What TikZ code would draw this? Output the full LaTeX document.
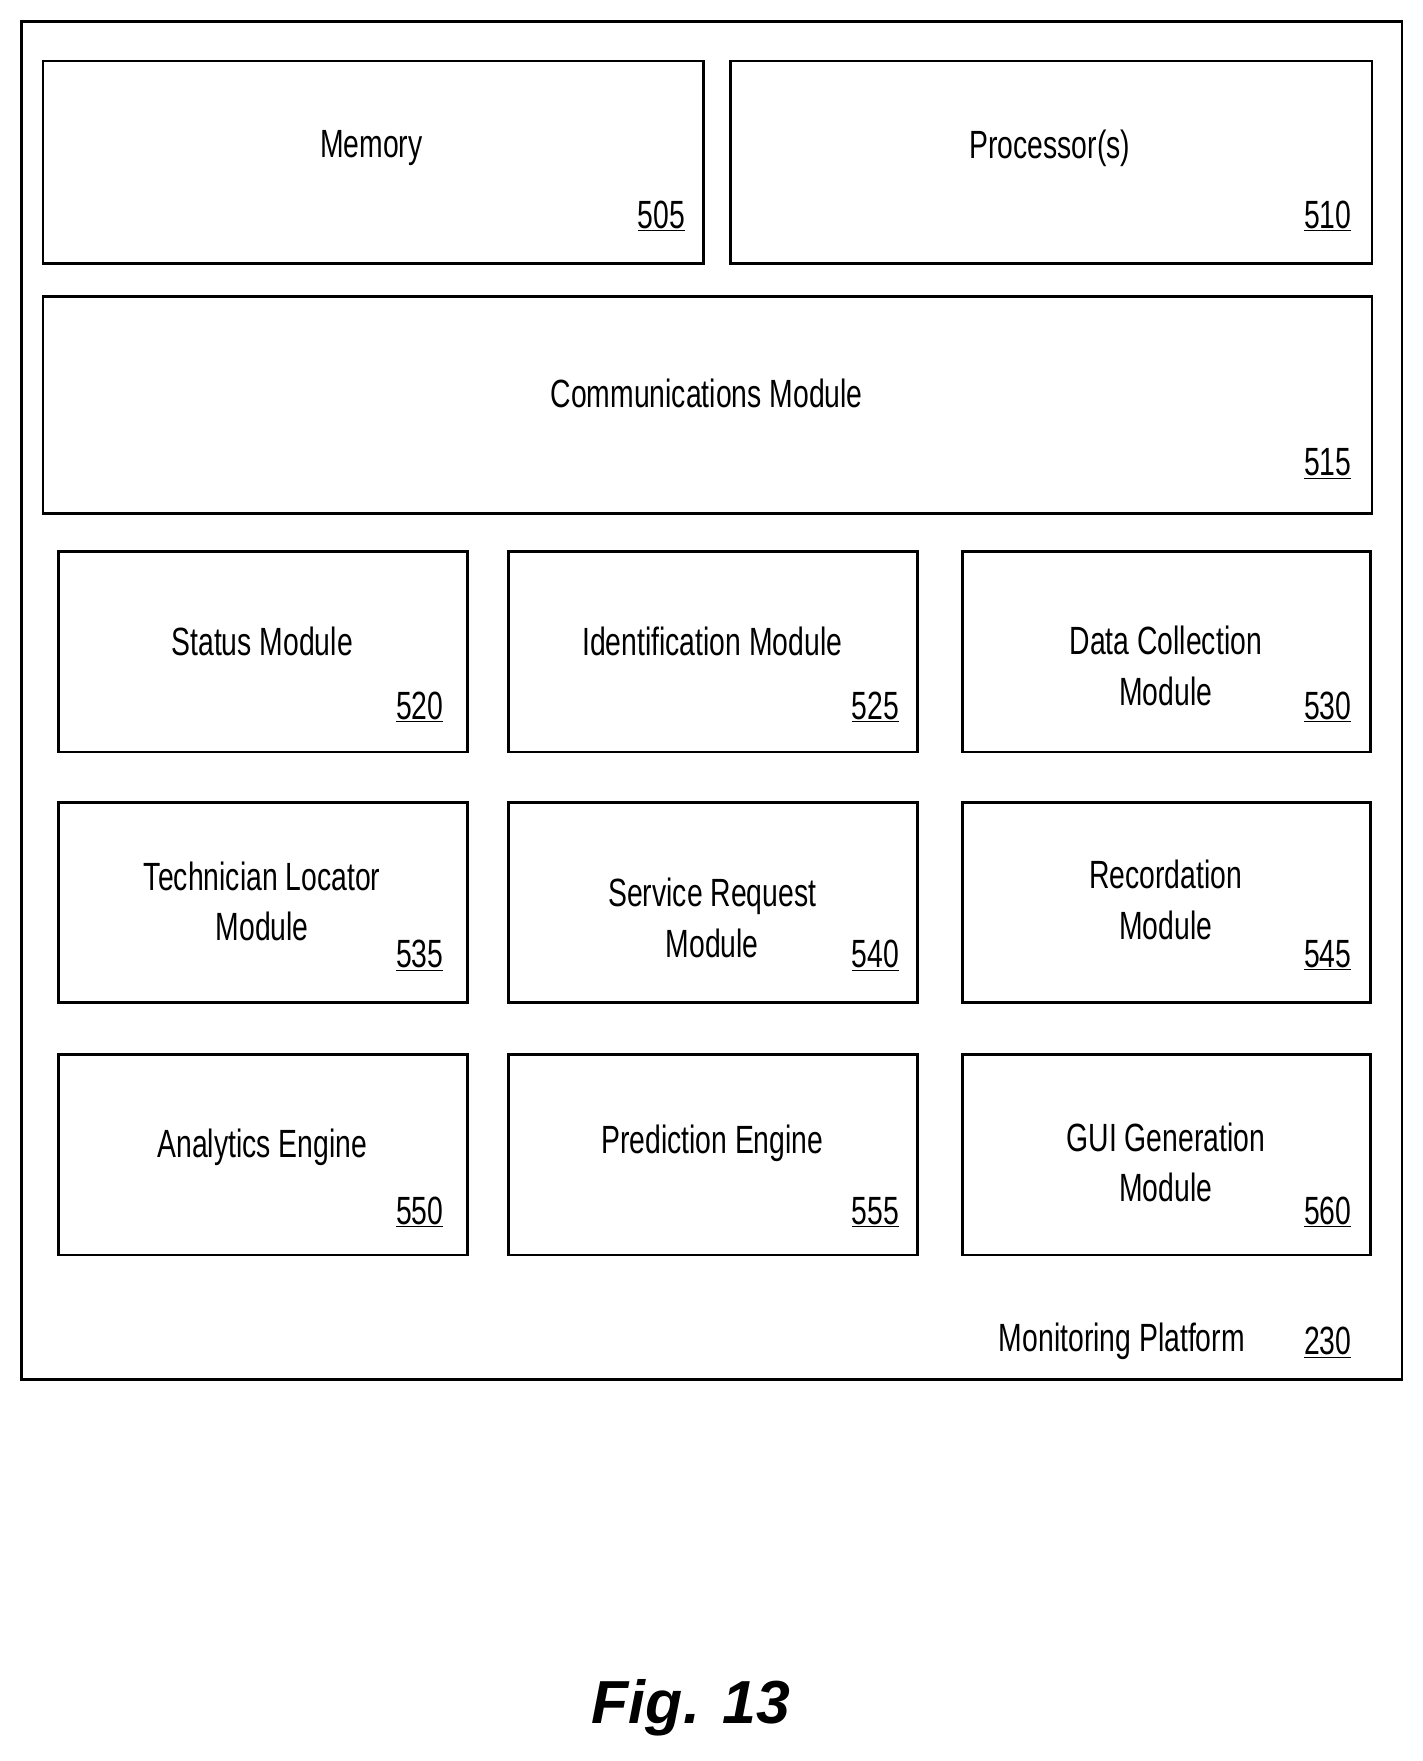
\documentclass[tikz,border=0pt]{standalone}
\usepackage{fontspec}
\setmainfont{Liberation Sans}[FakeStretch=0.72]
\newfontfamily\figfont{Liberation Sans}
\begin{document}
\begin{tikzpicture}[x=1pt,y=-1pt,
  box/.style={draw,line width=2.5pt},
  lbl/.style={font=\fontsize{35}{45}\selectfont,align=center,inner sep=0pt},
  num/.style={font=\fontsize{35}{40}\selectfont,inner sep=0pt}]
\useasboundingbox (0,0) rectangle (1264,1565);
\newcommand\ul[1]{\underline{#1}}
\draw[box] (19,19) rectangle (1246,1226);
\node[box,minimum width=587,minimum height=180,anchor=north west,inner sep=0] (mem) at (37,53) {};
\node[lbl] (memt) at (330,132) {Memory};
\node[num] (memn) at (588,192) {\ul{505}};
\node[box,minimum width=570,minimum height=180,anchor=north west,inner sep=0] (proc) at (648,53) {};
\node[lbl] (proct) at (933,132) {Processor(s)};
\node[num] (procn) at (1180,192) {\ul{510}};
\node[box,minimum width=1181,minimum height=193,anchor=north west,inner sep=0] (comm) at (37,262) {};
\node[lbl] (commt) at (628,350) {Communications Module};
\node[num] (commn) at (1180,412) {\ul{515}};
\foreach \nm/\x/\y/\ty/\t/\n/\nx/\ny in {
 a/51/489/570/{Status Module}/520/373/628,
 b/451/489/570/{Identification Module}/525/778/628,
 c/854/489/592/{Data Collection\\Module}/530/1180/628,
 d/51/712/801/{Technician Locator\\Module}/535/373/849,
 e/451/712/816/{Service Request\\Module}/540/778/849,
 f/854/712/800/{Recordation\\Module}/545/1180/849,
 g/51/936/1020/{Analytics Engine}/550/373/1077,
 h/451/936/1016/{Prediction Engine}/555/778/1077,
 i/854/936/1033/{GUI Generation\\Module}/560/1180/1077}{
 \node[box,minimum width=363,minimum height=178,anchor=north west,inner sep=0] (\nm) at (\x,\y) {};
 \node[lbl] (\nm t) at (\x+182,\ty) {\t};
 \node[num] (\nm n) at (\nx,\ny) {\ul{\n}};
}
\node[lbl] (mp) at (997,1192) {Monitoring Platform};
\node[num] (mpn) at (1180,1193) {\ul{230}};
\node[inner sep=0,font=\figfont\fontsize{54}{60}\selectfont\bfseries\itshape] (fig) at (614,1518) {Fig. 13};
\end{tikzpicture}
\end{document}
